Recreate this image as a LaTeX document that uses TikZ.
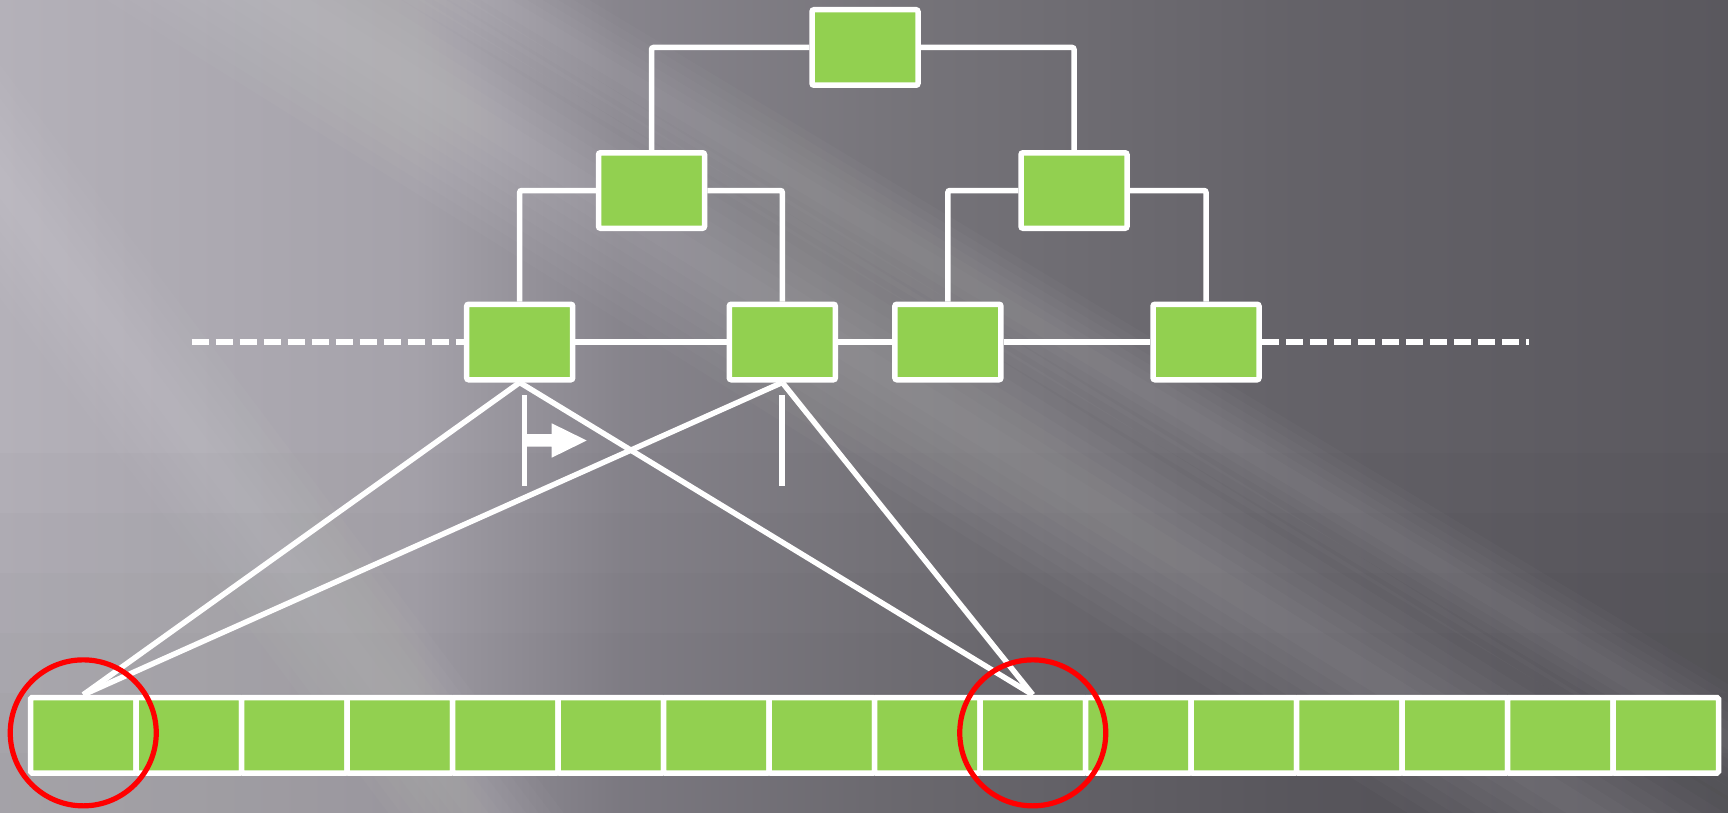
\documentclass[tikz,border=0pt]{standalone}

\pgfdeclarelayer{background}
\pgfdeclarelayer{links}
\pgfsetlayers{background,links,main}

\definecolor{leafgreen}{RGB}{146,208,80}
\definecolor{markred}{RGB}{255,0,0}

% slate backdrop, light on the left and darker to the right
\pgfdeclarehorizontalshading{slateshade}{100bp}{
  rgb(0bp)=(0.706,0.694,0.725);
  rgb(25bp)=(0.706,0.694,0.725);
  rgb(37bp)=(0.647,0.635,0.667);
  rgb(43bp)=(0.529,0.518,0.549);
  rgb(51bp)=(0.463,0.455,0.478);
  rgb(62.6bp)=(0.392,0.384,0.408);
  rgb(75bp)=(0.353,0.345,0.369);
  rgb(100bp)=(0.353,0.345,0.369)}

\tikzset{
  treebox/.style={draw=white, line width=2.75pt, fill=leafgreen, rounded corners=1pt,
                  minimum width=53pt, minimum height=37.75pt, inner sep=0pt},
  cellbox/.style={draw=white, line width=2.75pt, fill=leafgreen, rounded corners=0.8pt,
                  minimum width=52.75pt, minimum height=37.75pt, inner sep=0pt},
  ring/.style={circle, draw=markred, line width=2.6pt, minimum size=73pt, inner sep=0pt},
  link/.style={draw=white, line width=2.75pt, rounded corners=1pt},
  dashlink/.style={draw=white, line width=3pt, dash pattern=on 8.85pt off 3.15pt},
  ray/.style={draw=white, line width=2.75pt},
  bar/.style={draw=white, line width=2.85pt},
  glow/.style={fill=white, fill opacity=0.022},
}

\begin{document}
\begin{tikzpicture}[x=0.5pt, y=-0.5pt]
\useasboundingbox (0,0) rectangle (1728,813);

% backdrop with soft diagonal light streaks (stacked translucent bands)
\begin{pgfonlayer}{background}
  \begin{scope}
    \clip (0,0) rectangle (1728,813);
    \shade[shading=slateshade] (0,0) rectangle (1728,813);
    \foreach \w in {12,24,...,96}
      \fill[glow, rotate around={-32:(720,270)}] (-1200,270-\w) rectangle (2600,270+\w);
    \foreach \w in {8,16,...,48}
      \fill[glow, rotate around={-31:(496,0)}] (-1200,-\w) rectangle (2600,\w);
    \foreach \w in {10,20,...,70}
      \fill[glow, rotate around={-53:(320,606)}] (-900,606-\w) rectangle (1600,606+\w);
    \foreach \w in {0,60,...,360}
      \fill[black, fill opacity=0.012] (0,813-\w) rectangle (1728,813);
  \end{scope}
\end{pgfonlayer}

% index tree
\node[treebox] (root) at (865,47.5) {};
\node[treebox] (ia) at (651.5,190.5) {};
\node[treebox] (ib) at (1074,190.5) {};
\node[treebox] (la) at (519.7,342) {};
\node[treebox] (lb) at (782.3,342) {};
\node[treebox] (lc) at (947.9,342) {};
\node[treebox] (ld) at (1206,342) {};

% data array
\foreach \k in {1,...,16}
  \node[cellbox] (c\k) at ({30.5+(\k-0.5)*105.5},735.25) {};

% highlighted cells
\node[ring] (r1) at ([yshift=1.2pt]c1.center) {};
\node[ring] (r2) at ([yshift=1.2pt]c10.center) {};

\coordinate (dl) at (191.7,342);
\coordinate (dr) at (1529,342);

\begin{pgfonlayer}{links}
  \draw[link] (ia.north) |- (root.west);
  \draw[link] (root.east) -| (ib.north);
  \draw[link] (la.north) |- (ia.west);
  \draw[link] (ia.east) -| (lb.north);
  \draw[link] (lc.north) |- (ib.west);
  \draw[link] (ib.east) -| (ld.north);
  \draw[link] (la.east) -- (lb.west);
  \draw[link] (lb.east) -- (lc.west);
  \draw[link] (lc.east) -- (ld.west);
  \draw[dashlink] (dl) -- (la.west);
  \draw[dashlink] (ld.east) -- (dr);
  % leaf entries pointing into the array
  \draw[ray] (la.south) -- (c1.north);
  \draw[ray] (la.south) -- (c10.north);
  \draw[ray] (lb.south) -- (c1.north);
  \draw[ray] (lb.south) -- (c10.north);
\end{pgfonlayer}

% scan range markers
\draw[bar] (524.5,395) -- (524.5,485.7);
\draw[bar] (782.3,395) -- (782.3,485.7);
\fill[white] (524.5,434) -- (551.7,434) -- (551.7,423.3) -- (586.7,440.5)
  -- (551.7,457.7) -- (551.7,446.7) -- (524.5,446.7) -- cycle;

\end{tikzpicture}
\end{document}
